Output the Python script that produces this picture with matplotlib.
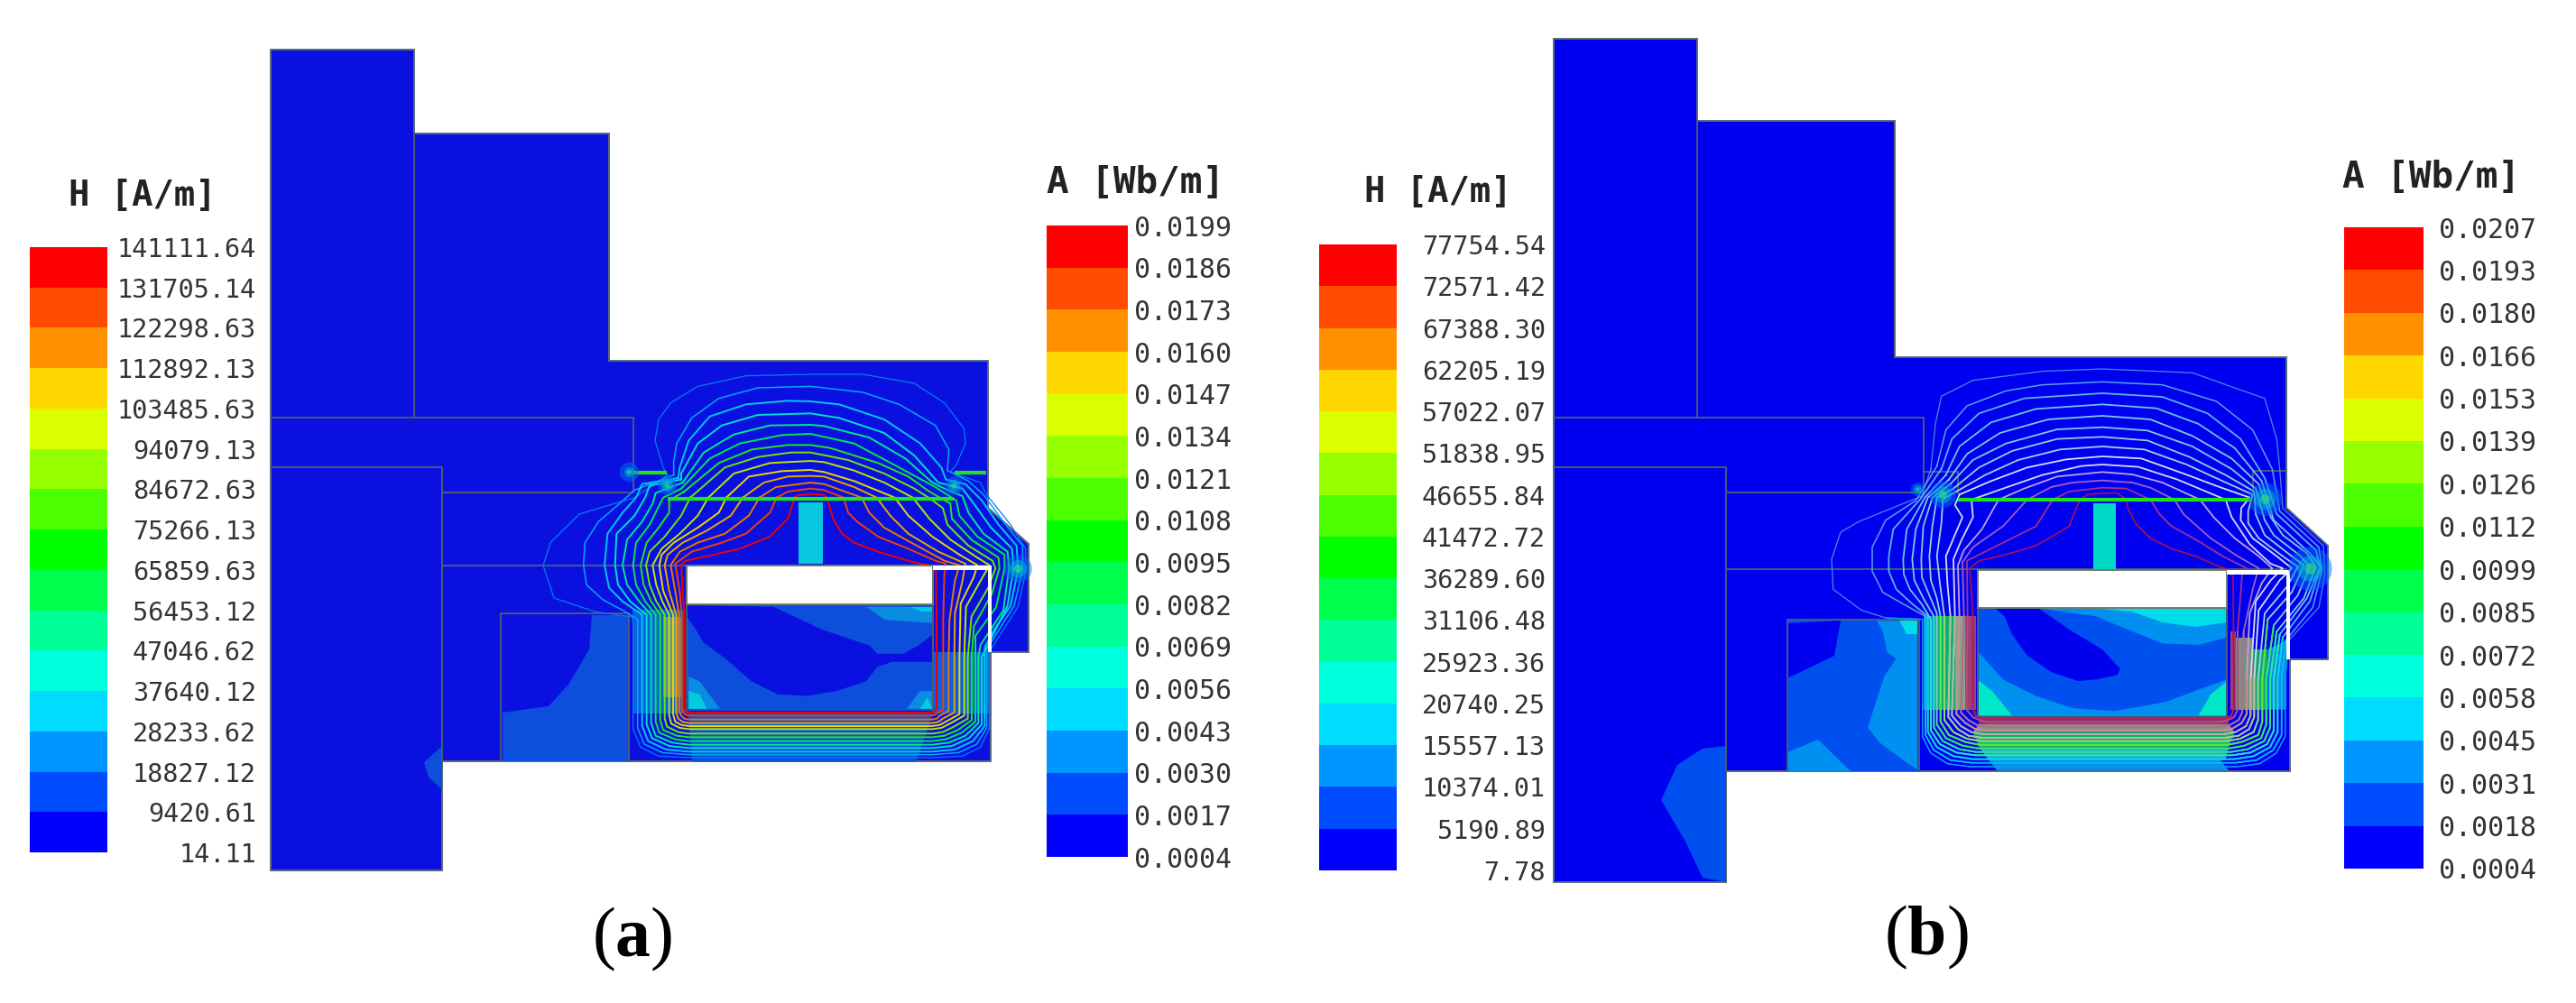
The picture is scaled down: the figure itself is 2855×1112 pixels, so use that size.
# Two FEM field plots (H shading with A flux lines) and their colour legends
import matplotlib
matplotlib.use("Agg")
import matplotlib.pyplot as plt
from matplotlib.cm import ScalarMappable
from matplotlib.colors import BoundaryNorm, ListedColormap
from matplotlib.patches import Polygon
from matplotlib.transforms import Affine2D

W, H = 2855, 1112

plt.rcParams["mathtext.fontset"] = "custom"
plt.rcParams["mathtext.rm"] = "Liberation Serif"
plt.rcParams["mathtext.bf"] = "Liberation Serif:bold"

# legend colours, low to high
BAND_COLORS = ["#0000FF", "#004CFF", "#0096FF", "#00DCFF", "#00FFDC", "#00FF96", "#00FF4C", "#00FF00",
               "#4CFF00", "#96FF00", "#DCFF00", "#FFD700", "#FF9100", "#FF4C00", "#FF0000"]

# legend labels, low to high
H_LABELS_A = ["14.11", "9420.61", "18827.12", "28233.62", "37640.12", "47046.62", "56453.12", "65859.63",
              "75266.13", "84672.63", "94079.13", "103485.63", "112892.13", "122298.63", "131705.14", "141111.64"]
A_LABELS_A = ["0.0004", "0.0017", "0.0030", "0.0043", "0.0056", "0.0069", "0.0082", "0.0095",
              "0.0108", "0.0121", "0.0134", "0.0147", "0.0160", "0.0173", "0.0186", "0.0199"]
H_LABELS_B = ["7.78", "5190.89", "10374.01", "15557.13", "20740.25", "25923.36", "31106.48", "36289.60",
              "41472.72", "46655.84", "51838.95", "57022.07", "62205.19", "67388.30", "72571.42", "77754.54"]
A_LABELS_B = ["0.0004", "0.0018", "0.0031", "0.0045", "0.0058", "0.0072", "0.0085", "0.0099",
              "0.0112", "0.0126", "0.0139", "0.0153", "0.0166", "0.0180", "0.0193", "0.0207"]

# outlines in image pixels
OUTLINE_A = [(300, 55), (459, 55), (459, 148), (675, 148), (675, 400), (1095, 400), (1095, 563), (1140, 603),
             (1140, 723), (1098, 723), (1098, 844), (490, 844), (490, 965), (300, 965)]
WINDOW_A = [(761, 627), (1034, 627), (1034, 670), (761, 670)]
GAP_A = [(1034, 627), (1099, 627), (1099, 723), (1095, 723), (1095, 632), (1034, 632)]
EDGES_A = [[(300, 463), (702, 463), (702, 546), (490, 546)], [(459, 148), (459, 463)], [(300, 518), (490, 518), (490, 844)],
           [(490, 627), (1095, 627)], [(555, 844), (555, 680), (697, 680), (697, 844)],
           [(761, 670), (1034, 670), (1034, 790), (761, 790), (761, 670)], [(1034, 632), (1034, 670)]]

OUTLINE_B = [(1722, 43), (1881, 43), (1881, 134), (2100, 134), (2100, 396), (2534, 396), (2534, 563), (2580, 605),
             (2580, 731), (2538, 731), (2538, 855), (1913, 855), (1913, 978), (1722, 978)]
WINDOW_B = [(2192, 632), (2468, 632), (2468, 674), (2192, 674)]
GAP_B = [(2468, 632), (2538, 632), (2538, 731), (2534, 731), (2534, 637), (2468, 637)]
EDGES_B = [[(1722, 463), (2132, 463), (2132, 546), (1913, 546)], [(1881, 134), (1881, 463)], [(1722, 518), (1913, 518), (1913, 855)],
           [(1913, 631), (2534, 631)], [(1981, 855), (1981, 687), (2127, 687), (2127, 855)],
           [(2192, 674), (2468, 674), (2468, 795), (2192, 795), (2192, 674)], [(2468, 637), (2468, 674)],
           [(2132, 523), (2170, 523), (2170, 546)], [(2497, 546), (2497, 522), (2533, 522)]]

# H shading regions, panel a; (colour, points)
SHADE_PX_A = [("#0D4FDC", [(656, 682), (653, 720), (630, 759), (608, 783), (557, 790), (557, 844), (697, 844), (697, 682)]),
              ("#0D4FDC", [(490, 827), (470, 845), (475, 862), (490, 875)])]
SHADE_CROP_A = [("#0D4FDC", [(295, 755), (960, 755), (960, 1080), (295, 1080)]),
                ("#0A10E0", [(295, 755), (530, 760), (660, 830), (790, 880), (810, 905), (880, 905), (920, 880), (960, 845),
                             (960, 930), (850, 930), (810, 945), (780, 990), (700, 1020), (620, 1035), (540, 1030), (470, 990),
                             (400, 920), (340, 870), (320, 830), (295, 790)]),
                ("#0A8CE0", [(780, 760), (960, 760), (960, 810), (830, 800)]),
                ("#00CCE8", [(900, 760), (960, 760), (960, 775), (930, 775)]),
                ("#0A8CE0", [(300, 975), (330, 990), (385, 1075), (300, 1075)]),
                ("#00CCDD", [(300, 1020), (330, 1030), (350, 1075), (300, 1075)]),
                ("#0A8CE0", [(960, 1020), (925, 1020), (890, 1075), (960, 1075)]),
                ("#00CCDD", [(945, 1040), (925, 1075), (960, 1075)]),
                ("#0A60E4", [(148, 770), (290, 770), (290, 1090), (148, 1090)]),
                ("#6F8C90", [(232, 790), (282, 790), (282, 1040), (232, 1040)]),
                ("#0A60E4", [(960, 900), (1113, 900), (1113, 1090), (960, 1090)]),
                ("#0D4FDC", [(300, 1090), (960, 1090), (915, 1238), (310, 1238)])]
# H shading regions, panel b
SHADE_PX_B = [("#0050F0", [(1981, 687), (2127, 687), (2127, 855), (1981, 855)]),
              ("#0000F0", [(1981, 691), (2040, 688), (2033, 727), (1981, 752)]),
              ("#0090F0", [(1981, 834), (2015, 820), (2051, 855), (1981, 855)]),
              ("#0050F0", [(1913, 827), (1887, 830), (1859, 848), (1841, 887), (1868, 933), (1887, 973), (1913, 978)])]
SHADE_CROP_B = [("#0050F0", [(485, 765), (1315, 765), (1315, 1125), (485, 1125)]),
                ("#0000EE", [(545, 765), (690, 765), (800, 840), (900, 900), (960, 965), (950, 985), (880, 1000), (820, 1005),
                             (730, 975), (650, 920), (600, 850), (575, 790)]),
                ("#0090F0", [(700, 765), (1315, 765), (1315, 860), (1220, 885), (1100, 880), (950, 820), (880, 790)]),
                ("#00DCE8", [(890, 765), (1315, 765), (1315, 810), (1210, 825), (1100, 810), (1000, 775)]),
                ("#0090F0", [(485, 905), (570, 1000), (680, 1055), (800, 1095), (940, 1105), (1110, 1075), (1230, 1030), (1315, 1000),
                             (1315, 1125), (485, 1125)]),
                ("#00E8C8", [(485, 1000), (535, 1040), (600, 1120), (485, 1120)]),
                ("#00E8C8", [(1315, 1005), (1260, 1050), (1220, 1120), (1315, 1120)]),
                ("#0090F0", [(150, 805), (285, 805), (285, 1300), (240, 1270), (160, 1210), (120, 1160), (175, 990), (215, 930),
                             (185, 910), (170, 840)]),
                ("#00DCE8", [(225, 805), (285, 805), (285, 850), (250, 850)]),
                ("#0090E8", [(305, 790), (345, 790), (345, 1100), (305, 1100)]),
                ("#10B070", [(345, 790), (410, 790), (410, 1100), (345, 1100)]),
                ("#90A080", [(410, 790), (445, 790), (445, 1100), (410, 1100)]),
                ("#A04070", [(445, 790), (480, 790), (480, 1100), (445, 1100)]),
                ("#0090F0", [(520, 1265), (1290, 1265), (1320, 1303), (550, 1303)]),
                ("#10B0C0", [(490, 1225), (1320, 1225), (1310, 1265), (520, 1265)]),
                ("#10B060", [(470, 1175), (1340, 1175), (1320, 1225), (490, 1225)]),
                ("#909080", [(490, 1148), (1320, 1148), (1340, 1175), (470, 1175)]),
                ("#A03070", [(490, 1128), (1320, 1128), (1320, 1148), (490, 1148)]),
                ("#A04070", [(1325, 840), (1345, 840), (1345, 1100), (1325, 1100)]),
                ("#809080", [(1345, 860), (1400, 860), (1400, 1100), (1345, 1100)]),
                ("#10A870", [(1400, 900), (1450, 900), (1450, 1100), (1400, 1100)]),
                ("#0090E8", [(1450, 900), (1512, 870), (1512, 1100), (1450, 1100)])]

# flux lines panel a, outermost level first, 3x crop units from (640, 395)
FLUX_A = [
    [(300, 395), (285, 370), (258, 280), (270, 210), (310, 155), (400, 100), (560, 65), (775, 60), (950, 60), (1120, 90), (1220, 155), (1285, 240), (1290, 290), (1260, 360), (1240, 385),
     (1340, 420), (1360, 460), (1440, 560), (1490, 640), (1492, 710), (1465, 833), (1403, 930), (1369, 984), (1369, 1240), (1340, 1300), (1280, 1330), (1180, 1335),
     (370, 1335), (270, 1330), (210, 1300), (185, 1240), (185, 900), (183, 867), (60, 850), (-78, 804), (-114, 696), (-90, 620), (6, 525), (190, 470), (300, 395)],
    [(320, 395), (320, 350), (330, 290), (380, 205), (470, 140), (600, 105), (775, 100), (950, 120), (1070, 160), (1190, 230), (1235, 310), (1230, 380),
     (1300, 415), (1350, 460), (1420, 555), (1480, 630), (1480, 710), (1452, 830), (1395, 920), (1361, 975), (1361, 1235), (1328, 1290), (1268, 1318), (1180, 1325),
     (370, 1325), (282, 1318), (222, 1290), (200, 1235), (200, 875), (160, 850), (85, 810), (30, 760), (20, 695), (25, 620), (70, 550), (140, 490), (190, 445), (320, 395)],
    [(335, 405), (340, 370), (370, 280), (440, 200), (560, 160), (700, 148), (775, 150), (870, 160), (1020, 210), (1140, 290), (1210, 370), (1225, 410),
     (1290, 425), (1345, 480), (1400, 560), (1460, 630), (1465, 710), (1440, 830), (1385, 910), (1354, 968), (1354, 1230), (1315, 1280), (1255, 1308), (1180, 1315),
     (370, 1315), (295, 1308), (235, 1280), (215, 1230), (215, 860), (150, 815), (105, 770), (90, 695), (100, 590), (150, 520), (195, 470), (215, 425), (335, 405)],
    [(345, 410), (345, 390), (400, 290), (480, 230), (600, 195), (775, 190), (870, 205), (1020, 255), (1120, 330), (1200, 420),
     (1280, 440), (1325, 500), (1375, 570), (1445, 640), (1450, 705), (1430, 830), (1365, 960), (1344, 1000), (1344, 1225), (1302, 1270), (1245, 1296), (1180, 1303),
     (370, 1303), (305, 1296), (248, 1270), (230, 1225), (230, 860), (175, 815), (135, 760), (125, 695), (130, 590), (190, 530), (225, 470), (240, 430), (345, 410)],
    [(350, 420), (420, 320), (520, 260), (640, 230), (775, 228), (820, 232), (970, 270), (1090, 340), (1180, 420), (1220, 440),
     (1280, 465), (1300, 520), (1350, 590), (1430, 650), (1435, 705), (1416, 845), (1340, 960), (1333, 1000), (1333, 1220), (1290, 1262), (1235, 1285), (1180, 1292),
     (370, 1292), (315, 1285), (260, 1262), (245, 1220), (245, 860), (205, 815), (165, 760), (150, 695), (165, 610), (215, 550), (250, 490), (260, 455), (350, 420)],
    [(345, 440), (440, 340), (540, 290), (680, 262), (775, 258), (920, 290), (1070, 370), (1190, 435),
     (1260, 480), (1270, 530), (1330, 600), (1420, 660), (1420, 705), (1392, 835), (1323, 930), (1323, 1215), (1278, 1252), (1225, 1274), (1180, 1280),
     (370, 1280), (325, 1274), (272, 1252), (260, 1215), (260, 860), (225, 815), (195, 760), (185, 695), (195, 620), (240, 560), (275, 490), (285, 470), (345, 440)],
    [(355, 450), (470, 355), (580, 310), (700, 295), (775, 295), (840, 305), (1000, 355), (1100, 400), (1170, 450),
     (1240, 490), (1245, 540), (1310, 610), (1400, 670), (1403, 705), (1378, 790), (1318, 898), (1311, 1000), (1311, 1210), (1265, 1243), (1220, 1262), (1180, 1267),
     (370, 1267), (330, 1262), (285, 1243), (275, 1210), (275, 860), (245, 815), (220, 760), (210, 695), (230, 620), (270, 570), (305, 520), (305, 480), (355, 450)],
    [(375, 470), (490, 370), (600, 335), (710, 320), (775, 320), (900, 345), (1020, 390), (1120, 440), (1175, 475),
     (1215, 505), (1230, 560), (1300, 630), (1380, 680), (1390, 705), (1366, 769), (1310, 866), (1298, 1000), (1298, 1205), (1252, 1232), (1215, 1250), (1180, 1255),
     (370, 1255), (335, 1250), (298, 1232), (290, 1205), (290, 860), (262, 815), (240, 760), (228, 695), (240, 650), (290, 600), (345, 530), (375, 470)],
    [(435, 470), (520, 390), (640, 355), (775, 348), (820, 352), (920, 380), (1020, 420), (1115, 470),
     (1170, 540), (1240, 610), (1330, 670), (1370, 695), (1340, 747), (1292, 833), (1286, 1000), (1286, 1195), (1238, 1222), (1210, 1236), (1180, 1240),
     (370, 1240), (340, 1236), (312, 1222), (305, 1195), (305, 860), (282, 815), (262, 760), (250, 695), (280, 640), (340, 590), (400, 530), (435, 470)],
    [(495, 470), (570, 400), (680, 382), (775, 378), (820, 385), (920, 415), (1055, 470),
     (1100, 530), (1180, 600), (1270, 660), (1330, 695), (1317, 736), (1274, 823), (1270, 1000), (1270, 1190), (1225, 1215), (1205, 1226), (1180, 1230),
     (370, 1230), (345, 1226), (325, 1215), (318, 1190), (318, 860), (285, 780), (272, 695), (280, 660), (320, 620), (400, 570), (470, 520), (495, 470)],
    [(550, 470), (620, 420), (700, 400), (775, 398), (820, 400), (920, 435), (995, 470),
     (1040, 530), (1100, 590), (1200, 650), (1290, 690), (1280, 747), (1255, 855), (1253, 1000), (1253, 1185), (1215, 1205), (1200, 1216), (1180, 1220),
     (370, 1220), (350, 1216), (335, 1205), (328, 1185), (328, 860), (305, 780), (290, 695), (300, 660), (350, 620), (430, 580), (510, 530), (550, 470)],
    [(605, 470), (660, 435), (775, 420), (820, 425), (945, 470),
     (970, 520), (1020, 570), (1110, 620), (1220, 680), (1270, 695), (1255, 747), (1237, 876), (1234, 1000), (1234, 1180), (1205, 1195), (1195, 1205), (1180, 1208),
     (370, 1208), (355, 1205), (345, 1195), (338, 1180), (338, 860), (325, 780), (310, 695), (340, 650), (400, 620), (490, 590), (570, 530), (605, 470)],
    [(662, 470), (700, 450), (775, 440), (820, 445), (885, 470),
     (900, 520), (930, 550), (1000, 600), (1100, 640), (1190, 680), (1225, 690), (1220, 725), (1216, 876), (1216, 1175), (1195, 1188), (1185, 1194), (1175, 1195),
     (375, 1195), (365, 1194), (355, 1188), (347, 1175), (347, 860), (340, 780), (325, 690), (380, 650), (480, 620), (560, 590), (640, 520), (662, 470)],
    [(722, 470), (735, 462), (775, 458), (815, 460), (830, 470),
     (850, 540), (880, 590), (920, 620), (1000, 650), (1100, 680), (1140, 690), (1185, 697), (1192, 715), (1194, 876), (1194, 1170), (1188, 1182), (1175, 1185),
     (375, 1185), (362, 1182), (355, 1170), (355, 860), (350, 780), (345, 695), (360, 680), (430, 665), (540, 640), (640, 600), (700, 540), (722, 470)],
]
FLUX_COLORS_A = ["#0080F0", "#00A8F8", "#00C8F0", "#00E0D0", "#00E890", "#00E850", "#20E820",
                 "#70E800", "#B8E800", "#E8D800", "#E8A800", "#E87800", "#F04000", "#F00000"]

# flux lines panel b, in 3x crop units from (2030, 420)
FLUX_B = [
    [(330, 300), (345, 150), (365, 58), (470, 5), (700, -25), (900, -33), (1200, -20), (1340, 30), (1440, 65), (1480, 200), (1490, 300),
     (1500, 430), (1635, 555), (1640, 650), (1620, 760), (1520, 870), (1508, 1000), (1508, 1190), (1478, 1245), (1423, 1280), (1348, 1290),
     (460, 1290), (385, 1280), (330, 1245), (302, 1190), (302, 800), (180, 795), (100, 770), (5, 700), (0, 600), (30, 510), (90, 475), (300, 390), (330, 300)],
    [(350, 290), (380, 170), (450, 90), (580, 40), (700, 20), (900, 10), (1100, 20), (1280, 75), (1400, 170), (1465, 300),
     (1490, 440), (1620, 560), (1630, 640), (1600, 760), (1510, 870), (1496, 1000), (1496, 1185), (1468, 1235), (1413, 1268), (1343, 1277),
     (465, 1277), (395, 1268), (340, 1235), (312, 1185), (312, 790), (240, 750), (170, 710), (135, 640), (135, 560), (180, 470), (280, 405), (350, 290)],
    [(365, 300), (400, 200), (490, 115), (640, 65), (900, 48), (1100, 60), (1250, 115), (1360, 200), (1440, 330),
     (1480, 450), (1610, 570), (1625, 630), (1590, 740), (1500, 860), (1483, 1000), (1483, 1175), (1458, 1225), (1403, 1255), (1338, 1265),
     (470, 1265), (405, 1255), (350, 1225), (320, 1175), (320, 790), (270, 750), (215, 700), (190, 640), (190, 590), (205, 500), (295, 400), (365, 300)],
    [(380, 320), (425, 225), (530, 145), (680, 100), (900, 85), (1080, 98), (1220, 150), (1340, 230), (1430, 340),
     (1470, 470), (1590, 580), (1625, 625), (1580, 730), (1490, 850), (1470, 1000), (1470, 1170), (1448, 1215), (1393, 1243), (1333, 1252),
     (475, 1252), (415, 1243), (360, 1215), (330, 1170), (330, 800), (300, 750), (260, 700), (240, 650), (238, 600), (250, 500), (310, 395), (380, 320)],
    [(390, 335), (450, 250), (560, 180), (720, 135), (900, 123), (1060, 135), (1200, 190), (1330, 265), (1420, 350),
     (1460, 460), (1500, 520), (1580, 580), (1610, 625), (1570, 730), (1480, 840), (1458, 1000), (1458, 1160), (1438, 1205), (1383, 1232), (1328, 1241),
     (480, 1241), (425, 1232), (370, 1205), (340, 1160), (340, 790), (305, 730), (275, 670), (268, 600), (280, 500), (320, 395), (390, 335)],
    [(395, 350), (470, 270), (580, 215), (750, 168), (900, 161), (1050, 172), (1200, 225), (1330, 300), (1410, 365),
     (1440, 470), (1470, 520), (1560, 590), (1590, 625), (1550, 720), (1470, 820), (1445, 1000), (1445, 1150), (1428, 1195), (1373, 1220), (1323, 1229),
     (485, 1229), (435, 1220), (380, 1195), (350, 1150), (350, 780), (325, 720), (300, 660), (298, 600), (305, 490), (335, 395), (395, 350)],
    [(405, 365), (490, 295), (600, 240), (750, 200), (900, 193), (1050, 205), (1190, 260), (1310, 320), (1405, 375),
     (1410, 450), (1440, 520), (1530, 590), (1570, 620), (1530, 710), (1450, 800), (1432, 1000), (1432, 1140), (1418, 1185), (1363, 1208), (1318, 1217),
     (490, 1217), (445, 1208), (390, 1185), (362, 1140), (362, 790), (350, 730), (330, 670), (325, 590), (335, 490), (350, 395), (405, 365)],
    [(415, 375), (510, 320), (620, 270), (760, 235), (900, 225), (1040, 235), (1180, 285), (1300, 340), (1400, 385),
     (1385, 440), (1385, 480), (1420, 530), (1500, 590), (1550, 625), (1515, 690), (1440, 780), (1418, 1000), (1418, 1135), (1403, 1175), (1358, 1197), (1313, 1205),
     (495, 1205), (450, 1197), (405, 1175), (375, 1135), (375, 790), (360, 680), (350, 590), (365, 480), (370, 400), (415, 375)],
    [(425, 385), (530, 340), (650, 295), (780, 268), (900, 258), (1030, 265), (1170, 315), (1290, 360), (1390, 395),
     (1362, 430), (1360, 470), (1400, 530), (1480, 590), (1530, 630), (1490, 670), (1420, 770), (1405, 1000), (1405, 1125), (1388, 1165), (1353, 1187), (1308, 1194),
     (500, 1194), (455, 1187), (420, 1165), (388, 1125), (395, 790), (385, 680), (380, 590), (435, 460), (410, 420), (425, 385)],
    [(465, 402), (570, 365), (700, 320), (830, 290), (900, 285), (1020, 293), (1150, 335), (1310, 402),
     (1330, 460), (1390, 550), (1460, 615), (1500, 630), (1460, 670), (1410, 740), (1393, 1000), (1393, 1120), (1378, 1155), (1343, 1175), (1303, 1182),
     (505, 1182), (465, 1175), (430, 1155), (400, 1120), (410, 790), (405, 600), (430, 540), (470, 460), (465, 402)],
    [(555, 402), (640, 365), (750, 325), (900, 310), (1000, 318), (1100, 345), (1225, 402),
     (1270, 460), (1340, 530), (1420, 590), (1465, 630), (1430, 680), (1390, 780), (1380, 1000), (1380, 1115), (1363, 1145), (1333, 1163), (1298, 1170),
     (510, 1170), (475, 1163), (445, 1145), (415, 1115), (425, 790), (420, 620), (440, 570), (500, 500), (555, 402)],
    [(650, 402), (730, 360), (800, 345), (900, 338), (1000, 345), (1060, 362), (1140, 402),
     (1170, 450), (1260, 530), (1350, 590), (1420, 630), (1400, 700), (1370, 840), (1365, 1110), (1353, 1135), (1323, 1152), (1293, 1158),
     (515, 1158), (485, 1152), (455, 1135), (430, 1110), (440, 790), (435, 610), (470, 560), (570, 490), (650, 402)],
    [(735, 402), (790, 375), (900, 362), (980, 365), (1060, 402),
     (1090, 450), (1130, 490), (1220, 540), (1300, 590), (1380, 630), (1365, 650), (1350, 840), (1350, 1100), (1338, 1125), (1313, 1137), (1288, 1142),
     (520, 1142), (495, 1137), (470, 1125), (448, 1100), (452, 790), (450, 605), (560, 550), (680, 490), (735, 402)],
    [(825, 402), (850, 385), (900, 380), (950, 380), (980, 402),
     (985, 430), (1010, 480), (1060, 530), (1130, 565), (1210, 590), (1290, 625), (1320, 635), (1335, 660), (1338, 1095), (1328, 1122), (1308, 1130),
     (500, 1130), (480, 1122), (470, 1095), (470, 790), (460, 630), (490, 605), (560, 590), (680, 555), (790, 490), (825, 402)],
]
FLUX_COLORS_B = ["#4A88E8", "#5AA0E8", "#60B0E8", "#70C0E8", "#80C8E0", "#80C8E0", "#90D0E0",
                 "#A0D0E0", "#D0E0F0", "#D8D8F0", "#C0A0E0", "#A060C0", "#A03090", "#A01060"]
# same levels inside the yoke, where they read as coloured stripes
FLUX_LOWER_B = ["#00A0F0", "#00C0F0", "#00D8E8", "#20E8C0", "#20E890", "#30E860", "#50E840",
                "#90D870", "#B0C090", "#B0B0A0", "#C09090", "#B07090", "#B05080", "#B02060"]

# small bright spots at the nodes: x, y, area per ring
GLOW_A = [(298, 428, [220, 90, 20]), (1250, 428, [220, 90, 20]), (1465, 704, [480, 190, 45]), (170, 385, [240, 60, 12])]
GLOW_B = [(370, 385, [450, 180, 40]), (1440, 400, [700, 280, 60]), (1590, 630, [1200, 420, 80]), (285, 365, [120, 40, 8])]
GLOW_COLORS = ["#0070F0", "#00C0D8", "#40F060"]


def add_bar(box, labels, size, label_x, align, title, title_xy, title_size):
    x0, x1, y0, y1 = box
    levels = [float(v) for v in labels]
    cax = fig.add_axes([x0 / W, 1 - y1 / H, (x1 - x0) / W, (y1 - y0) / H])
    norm = BoundaryNorm(levels, len(BAND_COLORS))
    cb = fig.colorbar(ScalarMappable(norm=norm, cmap=ListedColormap(BAND_COLORS)), cax=cax, ticks=levels)
    cb.outline.set_visible(False)
    cax.set_yticklabels(labels)
    cax.minorticks_off()
    cax.tick_params(length=0, pad=(label_x - x1) * 0.72, labelsize=size, labelcolor="#333333")
    for lab in cax.get_yticklabels():
        lab.set_family("DejaVu Sans Mono")
        lab.set_horizontalalignment(align)
    ax.text(title_xy[0], title_xy[1], title, family="DejaVu Sans Mono", weight="bold", fontsize=title_size,
            color="#222222", ha="center", va="center")


def draw_field(outline, window, gap, edges, base, shade_px, shade_crop, shade_tr, crop, flux, colors, widths, glow, bars, col, col_color, lower=None):
    ax.add_patch(Polygon(outline, closed=True, fc=base, ec="#5A6A78", lw=1.4, zorder=1))
    for color, pts in shade_px:
        ax.add_patch(Polygon(pts, closed=True, fc=color, ec="none", zorder=2))
    for color, pts in shade_crop:
        ax.add_patch(Polygon(pts, closed=True, fc=color, ec="none", zorder=2, transform=shade_tr))
    for seg in edges:
        ax.plot([p[0] for p in seg], [p[1] for p in seg], color="#4A5A78", lw=1.4, zorder=3)
    ax.add_patch(Polygon(col, closed=True, fc=col_color, ec="none", zorder=3, transform=crop))
    for i, line in enumerate(flux):
        ax.plot([p[0] for p in line], [p[1] for p in line], color=colors[i], lw=widths[i], zorder=4, transform=crop)
        if lower:
            low = [k for k, p in enumerate(line) if p[1] >= 790]
            part = line[low[0]:low[-1] + 1]
            ax.plot([p[0] for p in part], [p[1] for p in part], color=lower[i], lw=widths[i], zorder=4, transform=crop)
    ax.add_patch(Polygon(window, closed=True, fc="white", ec="#6E7F6E", lw=1.4, zorder=5))
    ax.add_patch(Polygon(gap, closed=True, fc="white", ec="none", zorder=5))
    for seg in bars:
        ax.plot([seg[0], seg[1]], [seg[2], seg[2]], color="#20E020", lw=3, zorder=6, solid_capstyle="butt", transform=crop)
    for x, y, rings in glow:
        for area, color in zip(rings, GLOW_COLORS):
            ax.scatter([x], [y], s=area, color=color, alpha=0.5, linewidths=0, zorder=7, transform=crop)


fig = plt.figure(figsize=(W / 100, H / 100), dpi=100)
ax = fig.add_axes([0, 0, 1, 1])
ax.set_xlim(0, W)
ax.set_ylim(H, 0)
ax.axis("off")

shade_a = Affine2D().scale(1 / 2.4375, 1 / 2.786).translate(640, 400) + ax.transData
crop_a = Affine2D().scale(1 / 3, 1 / 3).translate(640, 395) + ax.transData
crop_b = Affine2D().scale(1 / 3, 1 / 3).translate(2030, 420) + ax.transData

draw_field(OUTLINE_A, WINDOW_A, GAP_A, EDGES_A, "#0A10E0", SHADE_PX_A, SHADE_CROP_A, shade_a, crop_a, FLUX_A, FLUX_COLORS_A,
           [0.9, 1.1] + [1.4] * 12, GLOW_A, [(300, 1250, 475), (185, 298, 388), (1255, 1360, 388)],
           [(735, 485), (815, 485), (815, 690), (735, 690)], "#08C8E0")
draw_field(OUTLINE_B, WINDOW_B, GAP_B, EDGES_B, "#0000F0", SHADE_PX_B, SHADE_CROP_B, crop_b, crop_b, FLUX_B, FLUX_COLORS_B,
           [0.9, 1.1] + [1.3] * 12, GLOW_B, [(420, 1395, 402)],
           [(870, 415), (945, 415), (945, 632), (870, 632)], "#00D8C8", lower=FLUX_LOWER_B)

add_bar((33, 119, 274, 945), H_LABELS_A, 20.5, 284, "right", "H [A/m]", (158, 217), 28)
add_bar((1160, 1250, 250, 950), A_LABELS_A, 21.5, 1257, "left", "A [Wb/m]", (1259, 202), 29.5)
add_bar((1462, 1548, 271, 965), H_LABELS_B, 20.5, 1713, "right", "H [A/m]", (1594, 213), 28)
add_bar((2598, 2686, 252, 963), A_LABELS_B, 21.5, 2703, "left", "A [Wb/m]", (2695, 197), 29.5)

ax.text(701, 1041, r"$\mathrm{(}\mathbf{a}\mathrm{)}$", fontsize=56, ha="center", va="center", color="black")
ax.text(2135, 1039, r"$\mathrm{(}\mathbf{b}\mathrm{)}$", fontsize=56, ha="center", va="center", color="black")

fig.savefig("out.png", dpi=100)
